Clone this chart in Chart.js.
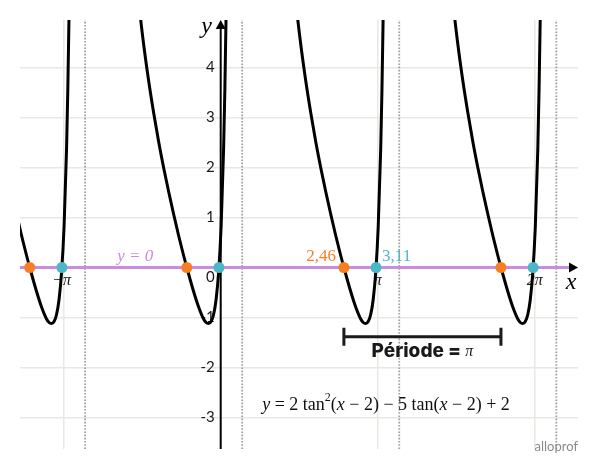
<!DOCTYPE html>
<html>
<head>
<meta charset="utf-8">
<script src="https://cdn.jsdelivr.net/npm/chart.js@4.4.0/dist/chart.umd.min.js"></script>
<style>
  html, body { margin: 0; padding: 0; background: #fff; }
  #wrap { width: 600px; height: 470px; }
</style>
</head>
<body>
<div id="wrap"><canvas id="tanChart" width="600" height="470"></canvas></div>
<script>
// y = 2tan²(x − 2) − 5tan(x − 2) + 2, one branch per period (same y values each time)
const branchY = [6.36, 5.33, 4.47, 3.74, 3.10, 2.52, 2.00, 1.52, 1.07, 0.64, 0.24, -0.13, -0.48,
  -0.79, -1.03, -1.10, -1.12, -1.08, -0.94, -0.64, -0.10, 0.81, 2.37, 3.55, 5.07, 6.67];
const branch1X = [-4.883, -4.783, -4.683, -4.583, -4.483, -4.383, -4.283, -4.183, -4.083, -3.983, -3.883, -3.783, -3.683,
  -3.583, -3.483, -3.433, -3.383, -3.333, -3.283, -3.233, -3.183, -3.133, -3.083, -3.058, -3.033, -3.013];
const branch2X = [-1.742, -1.642, -1.542, -1.442, -1.342, -1.242, -1.142, -1.042, -0.942, -0.842, -0.742, -0.642, -0.542,
  -0.442, -0.342, -0.292, -0.242, -0.192, -0.142, -0.092, -0.042, 0.008, 0.058, 0.083, 0.108, 0.128];
const branch3X = [1.4, 1.5, 1.6, 1.7, 1.8, 1.9, 2.0, 2.1, 2.2, 2.3, 2.4, 2.5, 2.6,
  2.7, 2.8, 2.85, 2.9, 2.95, 3.0, 3.05, 3.1, 3.15, 3.2, 3.225, 3.25, 3.27];
const branch4X = [4.542, 4.642, 4.742, 4.842, 4.942, 5.042, 5.142, 5.242, 5.342, 5.442, 5.542, 5.642, 5.742,
  5.842, 5.942, 5.992, 6.042, 6.092, 6.142, 6.192, 6.242, 6.292, 6.342, 6.367, 6.392, 6.412];

const orangeX = [-3.820, -0.678, 2.464, 5.605];   // zeros where tan(x − 2) = 0,5
const tealX = [-3.176, -0.035, 3.107, 6.249];     // zeros where tan(x − 2) = 2
const asymptoteX = [-2.712, 0.429, 3.571, 6.712];

const xGridValues = [-Math.PI, Math.PI, 2 * Math.PI];
const xTickLabels = ['−π', 'π', '2π'];
const yTickValues = [-3, -2, -1, 0, 1, 2, 3, 4];
const xRange = [-4.014, 7.146];
const yRange = [-3.63, 4.95];

const BLACK = '#000';
const ORANGE = '#f87e22';
const TEAL = '#4bb8c6';
const PURPLE = '#c98ce3';

const toPoints = (xs, ys) => xs.map((v, i) => ({ x: v, y: ys[i] }));

const curve = xs => ({
  data: toPoints(xs, branchY),
  borderColor: BLACK,
  borderWidth: 3,
  pointRadius: 0,
  cubicInterpolationMode: 'monotone',
  order: 3
});

const zeroDots = (xs, color) => ({
  data: xs.map(v => ({ x: v, y: 0 })),
  showLine: false,
  pointRadius: 5.5,
  pointBackgroundColor: color,
  pointBorderColor: color,
  pointBorderWidth: 0,
  order: 1
});

const datasets = [
  ...asymptoteX.map(a => ({
    data: [{ x: a, y: yRange[0] }, { x: a, y: yRange[1] }],
    borderColor: '#a0a0a0',
    borderWidth: 1.8,
    borderDash: [1.6, 1.6],
    pointRadius: 0,
    order: 6
  })),
  {
    data: [{ x: xRange[0], y: 0 }, { x: 7.0, y: 0 }],
    borderColor: PURPLE,
    borderWidth: 3,
    pointRadius: 0,
    order: 5
  },
  {
    data: [{ x: 0, y: yRange[0] }, { x: 0, y: 4.8 }],
    borderColor: BLACK,
    borderWidth: 2,
    pointRadius: 0,
    order: 4
  },
  curve(branch1X), curve(branch2X), curve(branch3X), curve(branch4X),
  zeroDots(orangeX, ORANGE),
  zeroDots(tealX, TEAL)
];

function drawRuns(ctx, runs, cx, cy) {
  let total = 0;
  runs.forEach(r => { ctx.font = r.font; r.w = ctx.measureText(r.text).width; total += r.w; });
  let px = cx - total / 2;
  ctx.textAlign = 'left';
  ctx.textBaseline = 'middle';
  runs.forEach(r => {
    ctx.font = r.font;
    ctx.fillText(r.text, px, cy + (r.dy || 0));
    px += r.w;
  });
}

const SERIF = '"Liberation Serif", "DejaVu Serif", serif';
const SANS = 'Lato, "Noto Sans", sans-serif';

const decor = {
  id: 'decor',
  beforeDatasetsDraw(chart) {
    const { ctx, scales: { x, y } } = chart;
    const x0 = x.getPixelForValue(0), y0 = y.getPixelForValue(0);
    ctx.save();
    ctx.fillStyle = '#1a1a1a';
    ctx.font = '15px ' + SANS;
    ctx.textAlign = 'right';
    ctx.textBaseline = 'middle';
    yTickValues.forEach(v => {
      ctx.fillText(String(v), x0 - 6, y.getPixelForValue(v) + (v === 0 ? 10 : 0));
    });
    ctx.font = 'italic 16px ' + SERIF;
    ctx.textAlign = 'center';
    xGridValues.forEach((v, i) => ctx.fillText(xTickLabels[i], x.getPixelForValue(v) - (v < 0 ? 2 : 0), y0 + 13));
    ctx.restore();
  },
  afterDatasetsDraw(chart) {
    const { ctx, chartArea, scales: { x, y } } = chart;
    const x0 = x.getPixelForValue(0), y0 = y.getPixelForValue(0);
    ctx.save();

    // arrow heads
    ctx.fillStyle = BLACK;
    ctx.beginPath();
    ctx.moveTo(x0, chartArea.top);
    ctx.lineTo(x0 - 5, chartArea.top + 9);
    ctx.lineTo(x0 + 5, chartArea.top + 9);
    ctx.closePath();
    ctx.fill();
    ctx.beginPath();
    ctx.moveTo(chartArea.right, y0);
    ctx.lineTo(chartArea.right - 9, y0 - 5);
    ctx.lineTo(chartArea.right - 9, y0 + 5);
    ctx.closePath();
    ctx.fill();

    // axis names
    ctx.font = 'italic 24px ' + SERIF;
    ctx.textAlign = 'center';
    ctx.textBaseline = 'middle';
    ctx.fillText('y', x0 - 14, chartArea.top + 7);
    ctx.fillText('x', chartArea.right - 7, y0 + 15);

    // labels on the x axis
    ctx.font = 'italic 17px ' + SERIF;
    ctx.fillStyle = PURPLE;
    ctx.fillText('y = 0', x.getPixelForValue(-1.71), y0 - 11);
    ctx.font = '17px ' + SERIF;
    ctx.fillStyle = ORANGE;
    ctx.textAlign = 'right';
    ctx.fillText('2,46', x.getPixelForValue(orangeX[2]) - 8, y0 - 11);
    ctx.fillStyle = TEAL;
    ctx.textAlign = 'left';
    ctx.fillText('3,11', x.getPixelForValue(tealX[2]) + 6, y0 - 11);

    // period bracket
    const bx1 = x.getPixelForValue(orangeX[2]), bx2 = x.getPixelForValue(orangeX[3]);
    const by = y.getPixelForValue(-1.385);
    ctx.strokeStyle = '#1a1a1a';
    ctx.lineWidth = 3;
    ctx.beginPath();
    ctx.moveTo(bx1, by); ctx.lineTo(bx2, by);
    ctx.moveTo(bx1, by - 9); ctx.lineTo(bx1, by + 9);
    ctx.moveTo(bx2, by - 9); ctx.lineTo(bx2, by + 9);
    ctx.stroke();
    ctx.fillStyle = '#1a1a1a';
    drawRuns(ctx, [
      { text: 'Période = ', font: '800 19px Inter, ' + SANS },
      { text: 'π', font: 'italic 16px ' + SERIF }
    ], (bx1 + bx2) / 2, by + 15);

    // equation
    ctx.fillStyle = '#111';
    const f = '18px ' + SERIF, fi = 'italic 18px ' + SERIF;
    drawRuns(ctx, [
      { text: 'y', font: fi },
      { text: ' = 2 tan', font: f },
      { text: '2', font: '12px ' + SERIF, dy: -7 },
      { text: '(', font: f },
      { text: 'x', font: fi },
      { text: ' − 2) − 5 tan(', font: f },
      { text: 'x', font: fi },
      { text: ' − 2) + 2', font: f }
    ], 386, 405);

    // logo text
    ctx.fillStyle = '#8a8a8a';
    ctx.font = '13px ' + SANS;
    ctx.textAlign = 'right';
    ctx.textBaseline = 'middle';
    ctx.fillText('alloprof', chartArea.right, 447);
    ctx.restore();
  }
};

new Chart(document.getElementById('tanChart').getContext('2d'), {
  type: 'line',
  data: { datasets: datasets },
  options: {
    responsive: false,
    animation: false,
    layout: { padding: { left: 20, right: 22, top: 20, bottom: 21 } },
    plugins: { legend: { display: false }, tooltip: { enabled: false } },
    scales: {
      x: {
        type: 'linear',
        min: xRange[0],
        max: xRange[1],
        afterBuildTicks: scale => { scale.ticks = xGridValues.map(v => ({ value: v })); },
        ticks: { display: false },
        grid: { color: '#ece7e2', lineWidth: 1.5, drawTicks: false },
        border: { display: false }
      },
      y: {
        type: 'linear',
        min: yRange[0],
        max: yRange[1],
        afterBuildTicks: scale => { scale.ticks = yTickValues.map(v => ({ value: v })); },
        ticks: { display: false },
        grid: { color: '#ece7e2', lineWidth: 1.5, drawTicks: false },
        border: { display: false }
      }
    }
  },
  plugins: [decor]
});
</script>
</body>
</html>
